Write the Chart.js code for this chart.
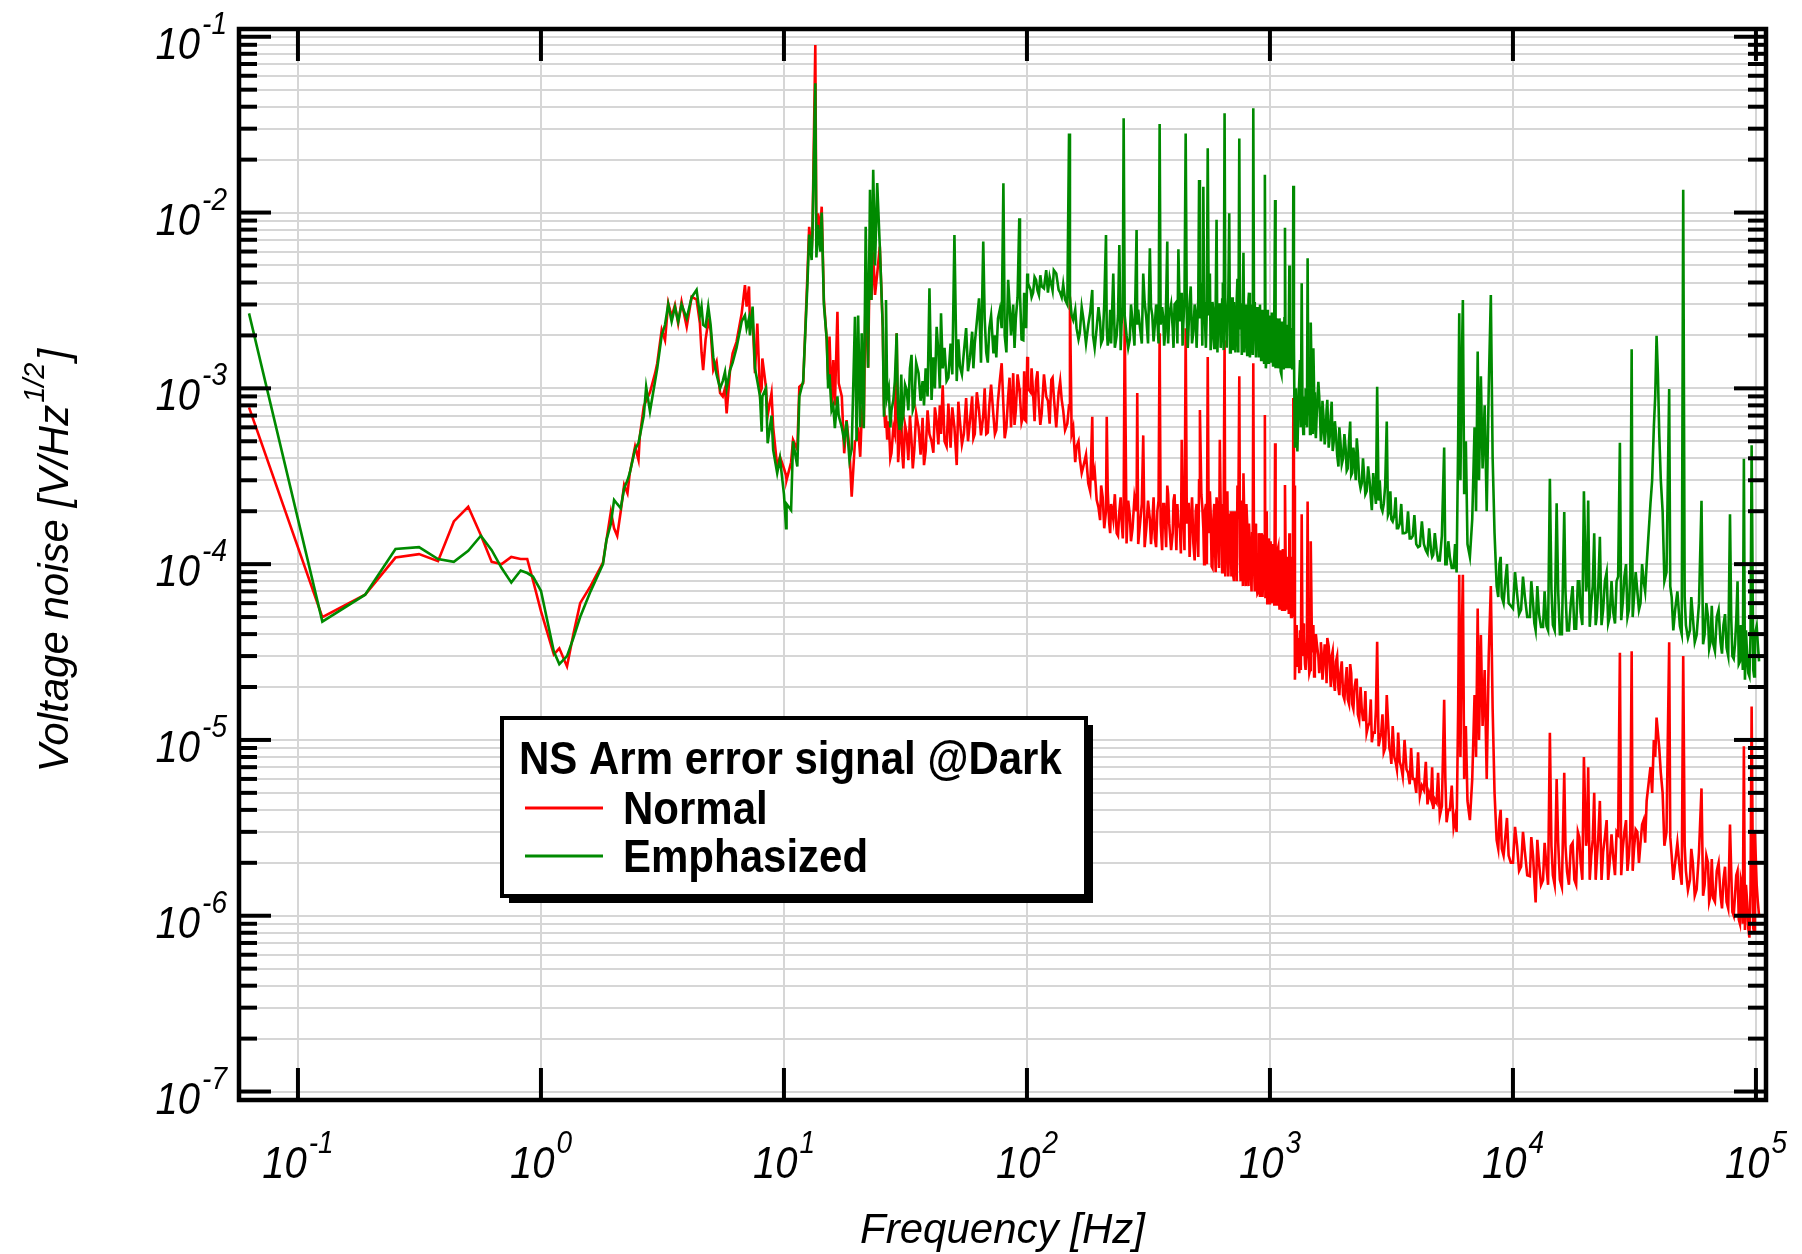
<!DOCTYPE html>
<html>
<head>
<meta charset="utf-8">
<title>NS Arm error signal @Dark</title>
<script src="https://cdn.jsdelivr.net/npm/chart.js@4.4.1/dist/chart.umd.min.js"></script>
<style>
  html, body { margin: 0; padding: 0; background: #fff; }
  canvas { display: block; }
</style>
</head>
<body>
<canvas id="noiseChart" width="1802" height="1254"></canvas>
<script>
// Frequency points [Hz] (shared by both traces): peaks, dips, lines
const freqHz = [
  0.0629, 0.126, 0.189, 0.252, 0.315, 0.377, 0.438, 0.502, 0.566, 0.627,
  0.689, 0.755, 0.825, 0.878, 0.927, 1.0, 1.13, 1.19, 1.28, 1.36,
  1.45, 1.6, 1.8, 1.86, 1.94, 2.0, 2.06, 2.13, 2.2, 2.27,
  2.32, 2.44, 2.52, 2.55, 2.65, 2.71, 2.81, 2.95, 3.01, 3.14,
  3.24, 3.34, 3.45, 3.56, 3.67, 3.79, 3.98, 4.17, 4.37, 4.51,
  4.58, 4.65, 4.76, 4.88, 4.99, 5.12, 5.28, 5.46, 5.6, 5.72,
  5.81, 6.0, 6.15, 6.38, 6.7, 6.91, 7.02, 7.18, 7.25, 7.43,
  7.6, 7.77, 7.97, 8.1, 8.15, 8.43, 8.57, 8.89, 9.03, 9.38,
  9.63, 10.0, 10.2, 10.25, 10.7, 10.9, 11.35, 11.57, 12.0, 12.3,
  12.5, 12.7, 13.0, 13.1, 13.46, 13.6, 13.8, 14.1, 14.3, 14.6,
  15.0, 15.2, 15.4, 15.7, 15.96, 16.2, 16.6, 16.8, 17.3, 17.7,
  18.1, 18.6, 19.0, 19.6, 19.9, 20.2, 20.6, 20.9, 21.3, 21.7,
  22.2, 22.6, 22.9, 23.3, 23.7, 24.2, 24.8, 25.5, 25.8, 26.1,
  26.3, 26.6, 27.7, 28.2, 29.1, 29.9, 31.0, 32.0, 33.5, 33.9,
  35.8, 37.7, 39.7, 40.5, 42.5, 44.3, 45.0, 46.7, 50.3, 51.4,
  53.0, 55.0, 58.3, 61.0, 63.5, 66.1, 68.0, 70.0, 72.8, 73.8,
  76.0, 78.7, 80.0, 81.0, 83.7, 86.0, 87.8, 90.0, 93.0, 93.6,
  96.6, 98.2, 100.3, 101, 103.5, 106, 109, 112, 115, 120,
  122, 126, 129, 135, 139, 141, 146.6, 149, 150.3, 152.7,
  155, 160, 165, 170.6, 178.8, 185.7, 187, 193.6, 200, 205,
  211.5, 213, 218, 222, 226.6, 234, 240, 245, 250, 252.5,
  257, 265, 272, 282.6, 284.4, 292, 301, 310, 320.5, 328,
  336, 344, 351.6, 355, 364, 371, 378, 385, 398, 405,
  420, 426, 433.5, 440, 450, 455, 463, 472, 484, 495,
  503, 511, 515, 522, 532, 540, 554.6, 560, 566, 575.5,
  585, 594, 603, 612, 622, 632, 640, 650.6, 660, 668,
  680, 690, 698, 707, 716, 726, 735, 748, 753, 762,
  770, 778, 790, 800, 812, 820, 835, 845, 854, 860,
  872, 880, 896, 905, 915, 925, 940, 953, 962, 970,
  980, 990, 1000, 1012, 1024, 1035, 1050, 1060, 1075, 1090,
  1100, 1115, 1130, 1140, 1153, 1165, 1180, 1190, 1202, 1215,
  1230, 1240, 1248, 1255, 1262, 1267, 1280, 1297, 1310, 1330,
  1340, 1351, 1362, 1380, 1394, 1410, 1429, 1440, 1462, 1472,
  1490, 1509, 1530, 1560, 1582, 1607, 1630, 1660, 1700, 1722,
  1766, 1795, 1830, 1870, 1914, 1950, 2000, 2050, 2090, 2139,
  2180, 2230, 2277, 2330, 2387, 2440, 2500, 2570, 2626, 2700,
  2762, 2800, 2870, 2940, 3025, 3100, 3160, 3250, 3330, 3420,
  3520, 3648, 3760, 3870, 4000, 4140, 4300, 4450, 4600, 4698,
  4850, 5000, 5212, 5333, 5500, 5700, 5863, 5950, 6012, 6080,
  6150, 6222, 6300, 6400, 6500, 6650, 6800, 6950, 7050, 7160,
  7250, 7380, 7500, 7650, 7800, 7950, 8110, 8250, 8400, 8570,
  8800, 9000, 9300, 9600, 10000, 10400, 10800, 11200, 11740, 12100,
  12400, 12800, 13300, 13740, 14190, 14600, 15130, 15600, 16260, 16700,
  17300, 17900, 18500, 19000, 19590, 20000, 20400, 21000, 21600, 22100,
  22790, 23500, 24300, 25000, 25880, 26700, 27550, 28300, 29200, 30000,
  30800, 31500, 32500, 33500, 34500, 35500, 36800, 38000, 39000, 40000,
  41300, 42850, 43950, 45000, 46500, 48650, 50200, 51500, 53500, 55000,
  57000, 59700, 61500, 63500, 65000, 66700, 69000, 71500, 73500, 75700,
  78200, 80000, 82000, 84000, 85900, 87500, 89200, 90100, 92000, 94000,
  96000, 97500, 99000, 100700, 103000
];

// "Normal" trace [V/Hz^1/2]
const normalV = [
  7.8e-4, 4.99e-5, 6.7e-5, 1.09e-4, 1.14e-4, 1.04e-4, 1.75e-4, 2.12e-4, 1.46e-4, 1.03e-4,
  1.0e-4, 1.1e-4, 1.07e-4, 1.07e-4, 8.1e-5, 5.4e-5, 3.07e-5, 3.32e-5, 2.62e-5, 4.0e-5,
  6.0e-5, 7.5e-5, 1.02e-4, 1.37e-4, 1.99e-4, 1.6e-4, 1.45e-4, 2.0e-4, 2.82e-4, 2.53e-4,
  3.29e-4, 4.66e-4, 3.92e-4, 5.3e-4, 7.9e-4, 8.5e-4, 9.5e-4, 1.22e-3, 1.39e-3, 2.15e-3,
  1.88e-3, 3.05e-3, 2.56e-3, 2.98e-3, 2.34e-3, 3.11e-3, 2.24e-3, 3.32e-3, 3.2e-3, 2.34e-3,
  1.6e-3, 1.27e-3, 1.9e-3, 2.4e-3, 2.15e-3, 1.27e-3, 1.42e-3, 9.4e-4, 9.0e-4, 1.0e-3,
  7.2e-4, 1.27e-3, 1.58e-3, 1.84e-3, 2.67e-3, 3.87e-3, 2.92e-3, 3.8e-3, 2.24e-3, 2.5e-3,
  1.22e-3, 2.34e-3, 9.4e-4, 1.0e-3, 1.48e-3, 1.02e-3, 7.0e-4, 9.4e-4, 6.0e-4, 3.6e-4,
  4.08e-4, 3.5e-4, 3.2e-4, 3.01e-4, 3.8e-4, 5.09e-4, 4.5e-4, 1.02e-3, 1.07e-3, 2.56e-3,
  4.51e-3, 8.3e-3, 6.0e-3, 7.6e-3, 8.98e-2, 7.0e-3, 9.9e-3, 8.0e-3, 1.08e-2, 3.18e-3,
  1.88e-3, 1.12e-3, 1.97e-3, 7.87e-4, 1.45e-3, 8.0e-4, 2.73e-3, 1.07e-3, 9.0e-4, 4.27e-4,
  6.6e-4, 4.5e-4, 2.42e-4, 5.0e-4, 5.09e-4, 6.0e-4, 4.08e-4, 7.0e-4, 6.0e-4, 4.0e-3,
  1.31e-3, 7.0e-3, 3.18e-3, 6.0e-3, 3.4e-3, 4.5e-3, 6.4e-3, 2.24e-3, 8.0e-4, 6.05e-4,
  7.0e-4, 5.1e-4, 4.28e-4, 6.0e-4, 2.06e-3, 5.0e-4, 3.5e-4, 5.5e-4, 5.0e-4, 3.5e-4,
  6.0e-4, 3.66e-4, 5.5e-4, 5.0e-4, 6.5e-4, 5.5e-4, 1.04e-3, 4.67e-4, 6.0e-4, 3.66e-4,
  6.5e-4, 5.5e-4, 6.6e-4, 5.5e-4, 7.5e-4, 7.0e-4, 5.5e-4, 8.0e-4, 7.0e-4, 5.5e-4,
  8.5e-4, 1.39e-3, 8.0e-4, 5.2e-4, 9.0e-4, 6.0e-4, 1.22e-3, 7.5e-4, 1.0e-3, 9.0e-4,
  7.0e-4, 6.6e-4, 1.51e-3, 1.0e-3, 9.5e-4, 9.4e-4, 1.1e-3, 8.0e-4, 7.2e-4, 9.0e-4,
  8.5e-4, 1.12e-3, 9.0e-4, 9.5e-4, 8.6e-4, 7.5e-4, 6.3e-4, 8.0e-4, 3.33e-3, 5.5e-4,
  6.0e-4, 4.67e-4, 4.0e-4, 3.59e-4, 2.88e-4, 6.9e-4, 3.0e-4, 2.32e-4, 1.78e-4, 2.4e-4,
  2.0e-4, 6.9e-4, 1.71e-4, 2.2e-4, 1.8e-4, 1.5e-4, 2.0e-4, 1.8e-4, 2.0e-4, 2.56e-3,
  1.31e-4, 1.9e-4, 1.6e-4, 2.0e-4, 9.4e-4, 1.7e-4, 5.4e-4, 1.6e-4, 1.8e-4, 1.7e-4,
  1.4e-4, 2.0e-4, 2.06e-3, 1.7e-4, 2.2e-4, 1.6e-4, 2.8e-4, 1.7e-4, 1.5e-4, 2.5e-4,
  1.7e-4, 1.6e-4, 5.1e-4, 1.8e-4, 2.2e-3, 1.7e-4, 2.2e-4, 1.7e-4, 1.31e-4, 2.0e-4,
  1.5e-4, 3.0e-4, 7.53e-4, 2.5e-4, 1.6e-4, 2.0e-4, 1.51e-3, 1.5e-4, 2.6e-4, 9.7e-5,
  1.8e-4, 1.3e-4, 2.4e-4, 1.4e-4, 5.1e-4, 1.5e-4, 2.2e-4, 1.88e-3, 1.4e-4, 2.6e-4,
  1.3e-4, 2.0e-4, 1.2e-4, 8.5e-5, 2.0e-4, 1.2e-4, 2.8e-4, 1.17e-3, 1.1e-4, 2.3e-4,
  1.1e-4, 3.29e-4, 1.0e-4, 2.2e-4, 1.0e-4, 1.7e-4, 9.0e-5, 1.5e-4, 1.39e-3, 1.0e-4,
  1.7e-4, 8.0e-5, 6.98e-5, 1.3e-4, 8.0e-5, 1.4e-4, 9.0e-5, 7.06e-4, 8.0e-5, 2.0e-4,
  7.5e-5, 1.3e-4, 6.25e-5, 1.1e-4, 7.0e-5, 1.2e-4, 4.87e-4, 7.0e-5, 1.2e-4, 6.5e-5,
  1.0e-4, 7.5e-5, 1.2e-4, 7.0e-5, 2.82e-4, 7.0e-5, 1.1e-4, 6.5e-5, 1.5e-4, 6.0e-5,
  9.0e-5, 5.5e-5, 8.8e-4, 7.0e-5, 2.8e-4, 2.2e-5, 4.0e-5, 2.6e-5, 3.8e-5, 4.2e-5,
  2.5e-5, 1.92e-4, 3.0e-5, 4.0e-5, 2.7e-5, 3.5e-5, 2.27e-4, 3.0e-5, 2.5e-5, 1.35e-4,
  3.2e-5, 4.5e-5, 2.8e-5, 3.5e-5, 3.0e-5, 2.79e-5, 3.2e-5, 2.6e-5, 3.0e-5, 3.8e-5,
  2.48e-5, 3.0e-5, 2.2e-5, 2.8e-5, 1.96e-5, 2.4e-5, 1.8e-5, 2.2e-5, 1.7e-5, 2.7e-5,
  1.6e-5, 2.0e-5, 2.2e-5, 1.3e-5, 1.5e-5, 1.3e-5, 1.1e-5, 1.25e-5, 9.7e-6, 1.1e-5,
  3.62e-5, 9.2e-6, 1.1e-5, 8.5e-6, 1.8e-5, 9.0e-6, 7.3e-6, 8.0e-6, 6.8e-6, 7.5e-6,
  6.2e-6, 6.8e-6, 5.6e-6, 6.0e-6, 5.0e-6, 4.8e-6, 5.2e-6, 4.3e-6, 4.6e-6, 4.05e-6,
  4.4e-6, 3.7e-6, 1.69e-5, 3.4e-6, 4.0e-6, 3.2e-6, 3.0e-6, 1.5e-5, 8.7e-5, 8.0e-6,
  3.5e-5, 8.7e-5, 6.0e-6, 1.2e-5, 4.5e-6, 3.5e-6, 6.0e-6, 1.8e-5, 8.0e-6, 5.6e-5,
  1.0e-5, 3.95e-5, 1.2e-5, 2.5e-5, 6.0e-6, 3.0e-5, 7.5e-5, 1.5e-5, 5.0e-6, 2.69e-6,
  3.5e-6, 2.4e-6, 2.8e-6, 2.2e-6, 2.0e-6, 2.5e-6, 1.9e-6, 2.3e-6, 1.68e-6, 2.2e-6,
  1.19e-6, 2.0e-6, 1.6e-6, 1.9e-6, 1.1e-5, 1.7e-6, 6.0e-6, 1.6e-6, 6.5e-6, 1.78e-6,
  2.5e-6, 1.6e-6, 3.0e-6, 2.0e-6, 8.0e-6, 2.5e-6, 7.0e-6, 2.2e-6, 5.0e-6, 2.0e-6,
  4.5e-6, 2.3e-6, 3.5e-6, 2.0e-6, 2.13e-6, 3.0e-6, 3.13e-5, 2.4e-6, 3.5e-6, 2.2e-6,
  3.2e-5, 2.4e-6, 3.0e-6, 2.6e-6, 3.5e-6, 4.5e-6, 7.0e-6, 1.0e-5, 1.34e-5, 9.0e-6,
  5.0e-6, 3.0e-6, 3.6e-5, 2.2e-6, 2.0e-6, 1.8e-6, 3.0e-5, 1.8e-6, 1.6e-6, 2.0e-6,
  1.41e-6, 5.3e-6, 1.5e-6, 2.0e-6, 1.3e-6, 1.26e-6, 1.8e-6, 1.3e-6, 1.6e-6, 1.2e-6,
  3.3e-6, 1.05e-6, 1.3e-6, 1.8e-6, 9.0e-7, 1.5e-6, 9.2e-6, 8.3e-7, 1.2e-6, 7.5e-7,
  1.55e-5, 8.5e-7, 3.0e-6, 1.5e-6, 1.0e-6
];

// "Emphasized" trace [V/Hz^1/2]
const emphasizedV = [
  2.67e-3, 4.71e-5, 6.7e-5, 1.22e-4, 1.25e-4, 1.07e-4, 1.03e-4, 1.19e-4, 1.45e-4, 1.2e-4,
  9.5e-5, 7.85e-5, 9.2e-5, 8.9e-5, 8.5e-5, 7.05e-5, 3.18e-5, 2.7e-5, 3.0e-5, 3.8e-5,
  5.0e-5, 7.0e-5, 1.0e-4, 1.37e-4, 1.7e-4, 2.32e-4, 2.2e-4, 2.08e-4, 2.7e-4, 3.0e-4,
  3.3e-4, 4.5e-4, 4.9e-4, 5.3e-4, 7.0e-4, 1.02e-3, 7.4e-4, 1.1e-3, 1.3e-3, 2.0e-3,
  2.3e-3, 3.0e-3, 2.4e-3, 2.9e-3, 2.4e-3, 3.0e-3, 2.5e-3, 3.3e-3, 3.63e-3, 2.6e-3,
  2.92e-3, 2.3e-3, 2.24e-3, 2.92e-3, 2.3e-3, 1.5e-3, 1.2e-3, 1.0e-3, 1.1e-3, 1.24e-3,
  1.0e-3, 1.27e-3, 1.4e-3, 1.7e-3, 2.4e-3, 2.6e-3, 2.2e-3, 2.5e-3, 2.0e-3, 2.92e-3,
  1.3e-3, 1.1e-3, 9.0e-4, 5.67e-4, 9.0e-4, 1.0e-3, 4.87e-4, 7.0e-4, 4.47e-4, 3.29e-4,
  4.0e-4, 2.5e-4, 1.6e-4, 2.2e-4, 2.03e-4, 5.0e-4, 3.59e-4, 9.0e-4, 1.1e-3, 2.4e-3,
  4.0e-3, 7.5e-3, 5.37e-3, 7.6e-3, 5.44e-2, 5.55e-3, 8.5e-3, 6.0e-3, 1.0e-2, 3.0e-3,
  1.9e-3, 1.0e-3, 1.2e-3, 7.5e-4, 8.0e-4, 5.93e-4, 9.0e-4, 7.0e-4, 6.0e-4, 5.0e-4,
  6.5e-4, 3.92e-4, 4.5e-4, 2.55e-3, 5.0e-4, 2.6e-3, 6.0e-4, 2.06e-3, 5.93e-4, 8.3e-3,
  1.31e-3, 1.35e-2, 3.18e-3, 1.75e-2, 5.0e-3, 1.47e-2, 6.4e-3, 2.24e-3, 6.9e-4, 1.1e-3,
  3.18e-3, 9.0e-4, 7.5e-4, 8.6e-4, 2.06e-3, 5.8e-4, 7.0e-4, 9.8e-4, 1.55e-3, 7.5e-4,
  1.22e-3, 8.0e-4, 3.71e-3, 8.6e-4, 2.24e-3, 2.67e-3, 1.3e-3, 1.1e-3, 7.46e-3, 1.1e-3,
  1.33e-3, 1.6e-3, 1.5e-3, 1.8e-3, 3.25e-3, 6.84e-3, 1.6e-3, 2.2e-3, 1.58e-3, 2.0e-3,
  2.5e-3, 2.2e-3, 1.47e-2, 2.0e-3, 4.14e-3, 2.0e-3, 3.0e-3, 2.5e-3, 9.27e-3, 3.47e-3,
  1.88e-3, 2.8e-3, 4.5e-3, 3.96e-3, 3.63e-3, 3.5e-3, 4.14e-3, 3.4e-3, 3.8e-3, 4.71e-3,
  3.5e-3, 3.9e-3, 4.7e-3, 3.63e-3, 3.3e-3, 3.9e-3, 3.0e-3, 2.82e-2, 3.3e-3, 2.6e-3,
  2.45e-3, 2.2e-3, 2.06e-3, 2.5e-3, 2.3e-3, 3.63e-3, 2.0e-3, 2.2e-3, 2.4e-3, 1.9e-3,
  7.46e-3, 2.2e-3, 2.0e-3, 1.8e-3, 4.5e-3, 2.0e-3, 6.54e-3, 2.3e-3, 3.44e-2, 2.6e-3,
  2.0e-3, 1.9e-3, 2.4e-3, 7.96e-3, 2.3e-3, 2.2e-3, 4.5e-3, 2.5e-3, 6.26e-3, 2.6e-3,
  2.3e-3, 2.5e-3, 3.19e-2, 2.3e-3, 2.5e-3, 2.1e-3, 6.84e-3, 2.6e-3, 2.2e-3, 3.0e-3,
  6.18e-3, 2.4e-3, 3.5e-3, 2.3e-3, 2.82e-2, 2.5e-3, 2.3e-3, 3.8e-3, 2.1e-3, 2.6e-3,
  2.4e-3, 1.53e-2, 2.5e-3, 4.0e-3, 1.4e-2, 2.5e-3, 2.32e-2, 2.6e-3, 4.5e-3, 2.0e-3,
  2.7e-3, 2.2e-3, 9.1e-3, 2.4e-3, 3.0e-3, 2.2e-3, 4.0e-3, 3.67e-2, 2.4e-3, 2.6e-3,
  9.9e-3, 2.3e-3, 3.3e-3, 2.0e-3, 2.5e-3, 2.2e-3, 4.2e-3, 2.64e-2, 2.2e-3, 3.0e-3,
  2.0e-3, 5.9e-3, 2.2e-3, 2.6e-3, 1.9e-3, 3.5e-3, 2.0e-3, 2.4e-3, 3.92e-2, 2.2e-3,
  1.8e-3, 2.6e-3, 2.0e-3, 2.4e-3, 1.9e-3, 2.5e-3, 1.6e-3, 1.64e-2, 1.3e-3, 2.2e-3,
  1.8e-3, 2.4e-3, 1.7e-3, 2.2e-3, 1.6e-3, 2.0e-3, 1.18e-2, 1.7e-3, 2.2e-3, 1.5e-3,
  2.0e-3, 1.2e-3, 2.1e-3, 1.6e-3, 8.2e-3, 1.8e-3, 1.5e-3, 2.0e-3, 5.0e-3, 1.6e-3,
  1.9e-3, 1.5e-3, 1.42e-2, 1.8e-3, 7.0e-4, 4.6e-4, 1.0e-3, 4.37e-4, 8.0e-4, 1.45e-3,
  6.0e-4, 3.96e-3, 7.0e-4, 9.0e-4, 6.3e-4, 8.5e-4, 5.5e-3, 7.0e-4, 5.5e-4, 2.37e-3,
  8.0e-4, 1.69e-3, 6.5e-4, 7.5e-4, 1.09e-3, 6.95e-4, 5.5e-4, 7.0e-4, 6.0e-4, 8.6e-4,
  5.5e-4, 8.4e-4, 5.0e-4, 5.5e-4, 3.59e-4, 5.0e-4, 4.0e-4, 4.5e-4, 3.5e-4, 6.47e-4,
  3.3e-4, 3.9e-4, 5.2e-4, 3.0e-4, 2.88e-4, 3.2e-4, 2.6e-4, 3.0e-4, 2.03e-4, 2.6e-4,
  1.02e-3, 2.3e-4, 2.1e-4, 2.2e-4, 6.47e-4, 2.0e-4, 1.8e-4, 1.9e-4, 1.6e-4, 1.7e-4,
  1.5e-4, 1.52e-4, 1.4e-4, 1.45e-4, 1.3e-4, 1.27e-4, 1.3e-4, 1.15e-4, 1.2e-4, 1.13e-4,
  1.2e-4, 1.05e-4, 4.6e-4, 1.0e-4, 1.1e-4, 9.5e-5, 8.97e-5, 5.0e-4, 2.67e-3, 3.0e-4,
  1.2e-3, 3.18e-3, 2.5e-4, 5.0e-4, 1.3e-4, 1.1e-4, 1.8e-4, 6.0e-4, 2.0e-4, 1.62e-3,
  3.0e-4, 1.17e-3, 3.5e-4, 8.0e-4, 2.0e-4, 1.0e-3, 3.4e-3, 4.0e-4, 1.5e-4, 7.5e-5,
  1.0e-4, 6.5e-5, 8.0e-5, 6.0e-5, 5.6e-5, 6.8e-5, 5.5e-5, 6.5e-5, 5.0e-5, 6.0e-5,
  4.2e-5, 5.2e-5, 4.4e-5, 4.45e-5, 3.06e-4, 4.5e-5, 2.22e-4, 4.0e-5, 1.98e-4, 4.2e-5,
  6.0e-5, 4.3e-5, 8.0e-5, 5.3e-5, 2.6e-4, 7.0e-5, 2.3e-4, 6.0e-5, 1.5e-4, 5.0e-5,
  1.43e-4, 5.5e-5, 9.0e-5, 5.0e-5, 5.3e-5, 8.0e-5, 4.9e-4, 6.0e-5, 1.0e-4, 5.5e-5,
  1.67e-3, 6.5e-5, 7.0e-5, 6.0e-5, 8.0e-5, 1.0e-4, 2.2e-4, 6.0e-4, 1.99e-3, 5.5e-4,
  2.0e-4, 9.0e-5, 9.9e-4, 6.5e-5, 5.5e-5, 4.45e-5, 1.35e-2, 4.5e-5, 4.2e-5, 5.0e-5,
  3.95e-5, 2.29e-4, 4.0e-5, 5.0e-5, 3.6e-5, 3.52e-5, 5.0e-5, 3.6e-5, 4.5e-5, 3.35e-5,
  1.92e-4, 3.0e-5, 3.5e-5, 8.0e-5, 2.79e-5, 4.0e-5, 3.98e-4, 2.2e-5, 3.0e-5, 2.3e-5,
  4.75e-4, 2.5e-5, 4.0e-5, 4.45e-5, 2.8e-5
];

// Extra points read from the dense noise floor between the lines (upper / lower edge of the band)
const fillFreqHz = [
  27.0, 27.4, 28.6, 29.5, 30.4, 30.7, 31.5, 32.5, 33.0, 34.4,
  35.0, 36.5, 37.2, 38.3, 39.0, 41.2, 41.8, 43.2, 43.8, 45.8,
  47.5, 48.5, 49.3, 52.2, 54.0, 56.2, 57.2, 59.5, 60.2, 62.2,
  64.7, 67.0, 69.0, 71.2, 74.8, 77.3, 82.3, 84.8, 88.9, 91.5,
  95.0, 97.4, 99.2, 104.5, 107.5, 110.5, 113.5, 117.5, 124, 127.5,
  132, 137, 143.5, 158, 163, 168, 175, 182, 190, 197,
  202, 208, 215, 220, 230, 237, 243, 248, 261, 268,
  277, 287, 297, 305, 315, 324, 332, 340, 348, 360,
  367, 374, 381, 392, 401, 412, 416, 430, 437, 445,
  459, 467, 478, 490, 499, 507, 527, 536, 545, 550,
  570, 580, 590, 598, 608, 617, 627, 636, 645, 655,
  664, 674, 685, 694, 703, 711, 721, 730, 741, 757,
  766, 774, 784, 795, 806, 816, 827, 840, 850, 866,
  876, 888, 900, 910, 920, 932, 946, 958, 966, 975,
  985, 995, 1006, 1018, 1030, 1042, 1055, 1068, 1082, 1095,
  1107, 1122, 1135, 1147, 1160, 1172, 1185, 1196, 1208, 1222,
  1235, 1244, 1288, 1320, 1372, 1402, 1420, 1452, 1500, 1520,
  1545, 1595, 1620, 1645, 1680, 1710, 1745, 1780, 1812, 1850,
  1890, 1930, 1975, 2025, 2070, 2115, 2160, 2205, 2255, 2300,
  2360, 2415, 2470, 2535, 2600, 2660, 2730, 2830, 2905, 2980,
  3060, 3130, 3200, 3290, 3370, 3470, 3580, 3700, 3810, 3930,
  4070, 4220, 4380, 4520, 4650, 4770, 4920, 5100, 5270, 5420,
  5600, 5780, 8700, 8900, 9150, 9450, 9800, 10200, 10600, 11000,
  11450, 11900, 12250, 12600, 13050, 13500, 13950, 14400, 14850, 15350,
  15900, 16450, 17000, 17600, 18200, 18750, 19300, 20200, 20700, 21300,
  21900, 22450, 23150, 23900, 24650, 25450, 26300, 27100, 27900, 28750,
  29600, 30400, 31100, 32000, 33000, 34000, 35000, 37400, 38500, 39500,
  40600, 42000, 44400, 45700, 47500, 49500, 50900, 52500, 54200, 56000,
  58300, 60600, 62500, 64200, 65800, 67800, 70200, 72500, 74600, 76900,
  79100, 81000, 83000, 85000, 86700, 88300, 91000, 93000, 95000, 98300,
  101800
];

const fillNormalV = [
  6.5e-4, 4.0e-4, 5.5e-4, 3.8e-4, 6.8e-4, 4.2e-4, 6.2e-4, 3.9e-4, 7.0e-4, 4.5e-4,
  7.2e-4, 4.2e-4, 6.8e-4, 4.4e-4, 7.5e-4, 4.3e-4, 7.8e-4, 4.8e-4, 8.0e-4, 5.0e-4,
  8.2e-4, 4.6e-4, 7.8e-4, 8.4e-4, 4.8e-4, 8.8e-4, 5.0e-4, 9.0e-4, 5.2e-4, 9.5e-4,
  5.4e-4, 1.0e-3, 5.6e-4, 1.05e-3, 5.8e-4, 1.1e-3, 6.0e-4, 1.15e-3, 6.2e-4, 1.2e-3,
  6.4e-4, 1.25e-3, 6.5e-4, 1.3e-3, 6.5e-4, 1.25e-3, 6.2e-4, 1.2e-3, 6.3e-4, 1.15e-3,
  6.0e-4, 1.1e-3, 5.8e-4, 3.8e-4, 5.0e-4, 3.3e-4, 4.2e-4, 2.6e-4, 3.4e-4, 2.1e-4,
  2.8e-4, 1.6e-4, 2.6e-4, 1.5e-4, 2.5e-4, 1.45e-4, 2.4e-4, 1.4e-4, 2.3e-4, 1.35e-4,
  2.4e-4, 1.3e-4, 2.2e-4, 1.25e-4, 2.3e-4, 1.3e-4, 2.4e-4, 1.25e-4, 2.3e-4, 1.2e-4,
  2.2e-4, 1.25e-4, 2.5e-4, 1.2e-4, 2.3e-4, 1.2e-4, 2.2e-4, 1.15e-4, 2.4e-4, 1.2e-4,
  2.2e-4, 1.1e-4, 2.4e-4, 1.05e-4, 2.2e-4, 1.1e-4, 2.1e-4, 1.0e-4, 2.2e-4, 1.0e-4,
  2.0e-4, 9.5e-5, 2.2e-4, 9.0e-5, 2.0e-4, 9.5e-5, 2.1e-4, 9.0e-5, 2.0e-4, 8.5e-5,
  2.2e-4, 8.5e-5, 1.9e-4, 8.5e-5, 2.0e-4, 8.0e-5, 1.9e-4, 8.0e-5, 1.8e-4, 8.0e-5,
  1.9e-4, 7.5e-5, 1.8e-4, 7.5e-5, 1.7e-4, 7.5e-5, 1.7e-4, 7.0e-5, 1.6e-4, 7.0e-5,
  1.6e-4, 6.8e-5, 1.5e-4, 6.5e-5, 1.5e-4, 6.5e-5, 1.45e-4, 6.5e-5, 1.4e-4, 6.0e-5,
  1.4e-4, 6.0e-5, 1.35e-4, 6.0e-5, 1.3e-4, 5.8e-5, 1.3e-4, 5.8e-5, 1.25e-4, 5.5e-5,
  1.2e-4, 5.5e-5, 1.2e-4, 5.5e-5, 1.15e-4, 5.5e-5, 1.1e-4, 5.2e-5, 1.1e-4, 5.0e-5,
  1.1e-4, 5.0e-5, 4.5e-5, 2.4e-5, 4.6e-5, 2.5e-5, 4.2e-5, 2.4e-5, 4.0e-5, 2.3e-5,
  4.0e-5, 2.4e-5, 3.6e-5, 2.2e-5, 3.5e-5, 2.1e-5, 3.4e-5, 2.0e-5, 3.2e-5, 1.9e-5,
  3.0e-5, 1.8e-5, 2.8e-5, 1.7e-5, 2.6e-5, 1.6e-5, 2.4e-5, 1.5e-5, 2.2e-5, 1.4e-5,
  2.0e-5, 1.3e-5, 1.9e-5, 1.2e-5, 1.7e-5, 1.1e-5, 1.5e-5, 1.0e-5, 1.4e-5, 9.0e-6,
  1.3e-5, 8.5e-6, 1.2e-5, 7.5e-6, 1.1e-5, 7.0e-6, 1.0e-5, 6.5e-6, 9.0e-6, 6.0e-6,
  8.5e-6, 5.5e-6, 7.5e-6, 5.0e-6, 7.0e-6, 4.6e-6, 6.5e-6, 4.2e-6, 6.0e-6, 4.0e-6,
  5.5e-6, 3.6e-6, 2.4e-6, 4.0e-6, 2.2e-6, 3.6e-6, 2.0e-6, 3.2e-6, 1.8e-6, 3.0e-6,
  1.7e-6, 2.8e-6, 1.6e-6, 2.7e-6, 1.5e-6, 2.6e-6, 1.5e-6, 2.5e-6, 1.5e-6, 2.6e-6,
  1.45e-6, 2.5e-6, 1.5e-6, 2.6e-6, 1.5e-6, 2.8e-6, 1.6e-6, 2.8e-6, 1.6e-6, 2.7e-6,
  1.6e-6, 2.8e-6, 1.6e-6, 2.8e-6, 1.6e-6, 2.9e-6, 1.7e-6, 2.9e-6, 1.7e-6, 3.0e-6,
  1.8e-6, 3.0e-6, 1.8e-6, 3.1e-6, 2.0e-6, 3.3e-6, 2.6e-6, 5.0e-6, 8.0e-6, 1.1e-5,
  6.5e-6, 2.5e-6, 2.8e-6, 1.6e-6, 2.6e-6, 1.5e-6, 2.5e-6, 1.4e-6, 2.4e-6, 1.3e-6,
  2.3e-6, 1.3e-6, 2.2e-6, 1.2e-6, 2.1e-6, 1.2e-6, 2.0e-6, 1.1e-6, 1.9e-6, 1.1e-6,
  1.8e-6, 1.0e-6, 1.7e-6, 9.5e-7, 1.6e-6, 9.0e-7, 1.5e-6, 8.5e-7, 1.4e-6, 8.0e-7,
  1.2e-6
];

const fillEmphasizedV = [
  1.0e-3, 6.0e-4, 1.1e-3, 7.0e-4, 1.2e-3, 6.5e-4, 1.05e-3, 7.5e-4, 1.3e-3, 8.0e-4,
  1.4e-3, 8.5e-4, 1.1e-3, 1.3e-3, 9.0e-4, 1.5e-3, 1.0e-3, 1.6e-3, 1.0e-3, 1.7e-3,
  1.15e-3, 1.8e-3, 1.2e-3, 1.9e-3, 1.2e-3, 2.2e-3, 1.25e-3, 2.1e-3, 1.3e-3, 2.4e-3,
  1.4e-3, 2.5e-3, 1.4e-3, 2.6e-3, 1.5e-3, 2.8e-3, 1.6e-3, 3.0e-3, 1.7e-3, 3.3e-3,
  1.9e-3, 3.5e-3, 2.2e-3, 3.3e-3, 4.3e-3, 3.6e-3, 4.4e-3, 3.7e-3, 4.3e-3, 3.6e-3,
  4.5e-3, 3.5e-3, 3.2e-3, 2.8e-3, 1.9e-3, 2.9e-3, 1.8e-3, 2.7e-3, 1.7e-3, 2.9e-3,
  1.8e-3, 3.0e-3, 1.75e-3, 2.8e-3, 1.7e-3, 2.6e-3, 1.65e-3, 2.9e-3, 1.7e-3, 3.0e-3,
  1.75e-3, 2.8e-3, 1.8e-3, 3.1e-3, 1.8e-3, 2.9e-3, 1.85e-3, 3.0e-3, 1.8e-3, 2.9e-3,
  1.75e-3, 3.2e-3, 1.8e-3, 3.0e-3, 1.7e-3, 3.1e-3, 1.8e-3, 2.9e-3, 1.75e-3, 3.2e-3,
  1.7e-3, 3.1e-3, 1.8e-3, 3.0e-3, 1.7e-3, 3.2e-3, 1.75e-3, 3.1e-3, 1.7e-3, 2.9e-3,
  1.65e-3, 3.1e-3, 1.7e-3, 3.0e-3, 1.6e-3, 3.0e-3, 1.7e-3, 3.2e-3, 1.65e-3, 3.0e-3,
  1.7e-3, 3.3e-3, 1.6e-3, 3.0e-3, 1.65e-3, 3.1e-3, 1.6e-3, 3.2e-3, 1.6e-3, 3.0e-3,
  1.55e-3, 3.1e-3, 1.6e-3, 3.0e-3, 1.55e-3, 3.2e-3, 1.5e-3, 3.0e-3, 1.55e-3, 3.1e-3,
  1.5e-3, 2.9e-3, 1.5e-3, 3.0e-3, 1.45e-3, 2.8e-3, 1.4e-3, 2.7e-3, 1.45e-3, 2.8e-3,
  1.4e-3, 2.6e-3, 1.4e-3, 2.7e-3, 1.35e-3, 2.6e-3, 1.3e-3, 2.5e-3, 1.3e-3, 2.5e-3,
  1.25e-3, 2.4e-3, 1.3e-3, 2.5e-3, 1.3e-3, 2.3e-3, 1.3e-3, 2.3e-3, 1.3e-3, 2.2e-3,
  1.3e-3, 2.0e-3, 6.0e-4, 1.1e-3, 5.5e-4, 1.0e-3, 6.0e-4, 1.0e-3, 5.5e-4, 9.5e-4,
  5.2e-4, 9.0e-4, 5.0e-4, 8.5e-4, 4.8e-4, 7.5e-4, 4.6e-4, 7.0e-4, 4.4e-4, 6.5e-4,
  4.2e-4, 6.0e-4, 3.7e-4, 5.5e-4, 3.4e-4, 5.0e-4, 3.2e-4, 4.6e-4, 3.0e-4, 4.3e-4,
  2.7e-4, 4.0e-4, 2.5e-4, 3.6e-4, 2.4e-4, 3.3e-4, 2.2e-4, 3.0e-4, 2.0e-4, 2.8e-4,
  1.9e-4, 2.6e-4, 1.75e-4, 2.4e-4, 1.6e-4, 2.2e-4, 1.5e-4, 2.0e-4, 1.4e-4, 1.9e-4,
  1.25e-4, 1.75e-4, 1.2e-4, 1.6e-4, 1.1e-4, 1.5e-4, 1.05e-4, 1.45e-4, 1.0e-4, 1.35e-4,
  9.5e-5, 1.3e-4, 6.5e-5, 1.1e-4, 6.0e-5, 1.0e-4, 5.8e-5, 9.0e-5, 5.2e-5, 8.5e-5,
  5.0e-5, 8.0e-5, 4.6e-5, 7.5e-5, 4.4e-5, 7.0e-5, 4.2e-5, 7.2e-5, 4.2e-5, 7.0e-5,
  4.0e-5, 7.0e-5, 4.2e-5, 7.5e-5, 4.3e-5, 8.0e-5, 4.5e-5, 8.0e-5, 4.4e-5, 7.5e-5,
  4.5e-5, 7.5e-5, 4.5e-5, 8.0e-5, 4.6e-5, 8.0e-5, 4.6e-5, 8.5e-5, 4.8e-5, 8.5e-5,
  5.0e-5, 9.0e-5, 5.0e-5, 9.0e-5, 5.5e-5, 1.0e-4, 7.0e-5, 3.0e-4, 9.0e-4, 1.2e-3,
  3.0e-4, 8.0e-5, 7.5e-5, 4.2e-5, 7.0e-5, 4.0e-5, 6.5e-5, 3.8e-5, 6.5e-5, 3.6e-5,
  6.0e-5, 3.5e-5, 6.0e-5, 3.3e-5, 5.8e-5, 3.2e-5, 5.5e-5, 3.1e-5, 5.2e-5, 3.0e-5,
  5.0e-5, 2.9e-5, 4.8e-5, 2.7e-5, 4.5e-5, 2.5e-5, 4.2e-5, 2.4e-5, 4.0e-5, 2.3e-5,
  3.5e-5
];

// Axes
const xTickExps = [-1, 0, 1, 2, 3, 4, 5];
const yTickExps = [-7, -6, -5, -4, -3, -2, -1];
const xRange = [0.0572, 1.1e5];
const yRange = [8.95e-8, 0.1107];

const seriesNames = ['Normal', 'Emphasized'];
const seriesColors = ['#ff0000', '#008a00'];
const legendTitle = 'NS Arm error signal @Dark';
const xTitle = 'Frequency [Hz]';
const yTitleMain = 'Voltage noise [V/Hz';
const yTitleSup = '1/2';
const yTitleEnd = ']';

const FONT_FAMILY = "'Liberation Sans', Arial, sans-serif";
const TEXT_STRETCH = 1.1; // the original lettering is a bit tall/narrow

function buildSeries(mainV, fillV) {
  const pts = freqHz.map((f, i) => ({ x: f, y: mainV[i] }))
    .concat(fillFreqHz.map((f, i) => ({ x: f, y: fillV[i] })));
  return pts.sort((a, b) => a.x - b.x);
}

function stretchedText(ctx, text, x, y, font) {
  ctx.save();
  ctx.font = font;
  ctx.textAlign = 'left';
  ctx.textBaseline = 'alphabetic';
  ctx.translate(x, y);
  ctx.scale(1, TEXT_STRETCH);
  ctx.fillText(text, 0, 0);
  ctx.restore();
}

function drawPower(ctx, exp, x, baseline, align) {
  const baseFont = 'italic 40px ' + FONT_FAMILY;
  const expFont = 'italic 28px ' + FONT_FAMILY;
  ctx.font = baseFont;
  const w1 = ctx.measureText('10').width;
  ctx.font = expFont;
  const w2 = ctx.measureText(String(exp)).width;
  const total = w1 + 2 + w2;
  const x0 = align === 'center' ? x - total / 2 : x - total;
  stretchedText(ctx, '10', x0, baseline, baseFont);
  stretchedText(ctx, String(exp), x0 + w1 + 2, baseline - 25, expFont);
}

function line(ctx, x1, y1, x2, y2) {
  ctx.beginPath();
  ctx.moveTo(x1, y1);
  ctx.lineTo(x2, y2);
  ctx.stroke();
}

function isDecade(v) {
  const l = Math.log10(v);
  return Math.abs(l - Math.round(l)) < 1e-6;
}

// frame, inward ticks, tick labels, titles and the boxed legend
const plotDecor = {
  id: 'plotDecor',
  afterDraw(chart) {
    const { ctx, chartArea: a, scales } = chart;
    const xs = scales.x, ys = scales.y;
    ctx.save();
    ctx.strokeStyle = '#000';
    ctx.fillStyle = '#000';
    ctx.lineCap = 'butt';

    ctx.lineWidth = 4;
    ys.ticks.forEach(t => {
      const py = ys.getPixelForValue(t.value);
      const len = isDecade(t.value) ? 32 : 18;
      line(ctx, a.left, py, a.left + len, py);
      line(ctx, a.right, py, a.right - len, py);
    });
    xs.ticks.forEach(t => {
      const px = xs.getPixelForValue(t.value);
      line(ctx, px, a.bottom, px, a.bottom - 32);
      line(ctx, px, a.top, px, a.top + 32);
    });
    ctx.lineWidth = 4.5;
    ctx.strokeRect(a.left, a.top, a.right - a.left, a.bottom - a.top);

    // tick labels
    xTickExps.forEach(e => {
      drawPower(ctx, e, xs.getPixelForValue(Math.pow(10, e)), a.bottom + 78, 'center');
    });
    yTickExps.forEach(e => {
      drawPower(ctx, e, a.left - 12, ys.getPixelForValue(Math.pow(10, e)) + 22, 'right');
    });

    // x title
    ctx.font = 'italic 42px ' + FONT_FAMILY;
    ctx.textAlign = 'center';
    ctx.textBaseline = 'alphabetic';
    ctx.fillText(xTitle, (a.left + a.right) / 2, 1243);

    // y title (rotated, with superscript)
    const mainFont = 'italic 42px ' + FONT_FAMILY;
    const supFont = 'italic 29px ' + FONT_FAMILY;
    ctx.font = mainFont;
    const wMain = ctx.measureText(yTitleMain).width;
    const wEnd = ctx.measureText(yTitleEnd).width;
    ctx.font = supFont;
    const wSup = ctx.measureText(yTitleSup).width;
    const total = wMain + wSup + wEnd + 4;
    ctx.save();
    ctx.translate(68, (a.top + a.bottom) / 2 - 4);
    ctx.rotate(-Math.PI / 2);
    ctx.textAlign = 'left';
    let tx = -total / 2;
    ctx.font = mainFont;
    ctx.fillText(yTitleMain, tx, 0);
    tx += wMain + 2;
    ctx.font = supFont;
    ctx.fillText(yTitleSup, tx, -24);
    tx += wSup + 2;
    ctx.font = mainFont;
    ctx.fillText(yTitleEnd, tx, 0);
    ctx.restore();

    // legend box with drop shadow
    const box = { x: 502, y: 718, w: 584, h: 178 };
    ctx.fillStyle = '#000';
    ctx.fillRect(box.x + 7, box.y + 7, box.w, box.h);
    ctx.fillStyle = '#fff';
    ctx.fillRect(box.x, box.y, box.w, box.h);
    ctx.lineWidth = 4;
    ctx.strokeStyle = '#000';
    ctx.strokeRect(box.x, box.y, box.w, box.h);
    ctx.fillStyle = '#000';
    const boldFont = 'bold 42px ' + FONT_FAMILY;
    stretchedText(ctx, legendTitle, box.x + 17, box.y + 56, boldFont);
    const rows = [box.y + 90, box.y + 138];
    seriesNames.forEach((name, i) => {
      ctx.strokeStyle = seriesColors[i];
      ctx.lineWidth = 3;
      line(ctx, box.x + 23, rows[i], box.x + 101, rows[i]);
      ctx.fillStyle = '#000';
      stretchedText(ctx, name, box.x + 121, rows[i] + 16, boldFont);
    });
    ctx.restore();
  }
};

if (freqHz.length !== normalV.length || freqHz.length !== emphasizedV.length ||
    fillFreqHz.length !== fillNormalV.length || fillFreqHz.length !== fillEmphasizedV.length) {
  console.warn('data length mismatch');
}

const ctx = document.getElementById('noiseChart').getContext('2d');

new Chart(ctx, {
  type: 'line',
  data: {
    datasets: [
      {
        label: seriesNames[0],
        data: buildSeries(normalV, fillNormalV),
        borderColor: seriesColors[0],
        borderWidth: 2.6,
        pointRadius: 0,
        fill: false,
        order: 1
      },
      {
        label: seriesNames[1],
        data: buildSeries(emphasizedV, fillEmphasizedV),
        borderColor: seriesColors[1],
        borderWidth: 2.6,
        pointRadius: 0,
        fill: false,
        order: 0
      }
    ]
  },
  options: {
    responsive: false,
    animation: false,
    devicePixelRatio: 1,
    layout: { padding: { top: 29, right: 36, bottom: 0, left: 0 } },
    elements: { line: { tension: 0 } },
    plugins: {
      legend: { display: false },
      tooltip: { enabled: false }
    },
    scales: {
      x: {
        type: 'logarithmic',
        min: xRange[0],
        max: xRange[1],
        afterBuildTicks: scale => {
          scale.ticks = xTickExps.map(e => ({ value: Math.pow(10, e) }));
        },
        afterFit: scale => { scale.height = 154; },
        ticks: { display: false },
        grid: { color: '#d6d6d6', lineWidth: 2, drawTicks: false },
        border: { display: false }
      },
      y: {
        type: 'logarithmic',
        min: yRange[0],
        max: yRange[1],
        afterBuildTicks: scale => {
          const ticks = [];
          yTickExps.forEach(e => {
            for (let m = 1; m <= 9; m++) {
              const v = m * Math.pow(10, e);
              if (v >= yRange[0] && v <= yRange[1]) ticks.push({ value: v });
            }
          });
          scale.ticks = ticks;
        },
        afterFit: scale => { scale.width = 239; },
        ticks: { display: false },
        grid: { color: '#d6d6d6', lineWidth: 2, drawTicks: false },
        border: { display: false }
      }
    }
  },
  plugins: [plotDecor]
});
</script>
</body>
</html>
